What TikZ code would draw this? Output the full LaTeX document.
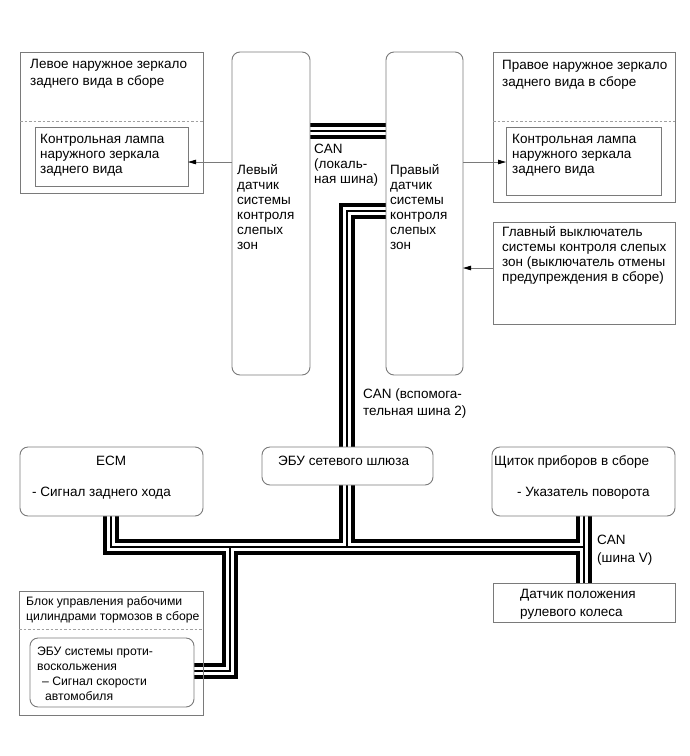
\documentclass[tikz,border=0pt]{standalone}
\usepackage{fontspec}
\setmainfont{Liberation Sans}
\usetikzlibrary{arrows.meta}
\pgfdeclarelayer{bg}
\pgfsetlayers{bg,main}
\definecolor{edgec}{HTML}{7A7A7A}
\definecolor{dashc}{HTML}{A0A0A0}
\newcommand\busnet[1]{%
  \draw[#1] (lsens.east |- 0,131) -- (rsens.west |- 0,131);
  \draw[#1] (rsens.west |- 0,211) -- (c1) -- (gateway.north -| c1);
  \draw[#1] (gateway.south -| c1) -- (c2);
  \draw[#1] (ecm.south -| c3) -- (c3) -- (c4);
  \draw[#1] (c5) -- (c6) -- (abs.east |- c6);
  \draw[#1] (cluster.south -| c4) -- (steer.north -| c4);
}
\begin{document}
\begin{tikzpicture}[x=1pt,y=-1pt,
  frame/.style={draw=edgec, line width=0.9pt, rectangle, inner sep=0pt, outer sep=0pt, anchor=north west},
  rbox/.style={frame, rounded corners=8pt, fill=white},
  sbox/.style={frame, fill=white},
  obox/.style={frame},
  dashline/.style={draw=dashc, line width=0.9pt, dash pattern=on 2.5pt off 2pt},
  txt/.style={anchor=base west, align=left, inner sep=0pt, font=\fontsize{13.5}{15}\selectfont},
  txth/.style={txt, font=\fontsize{13.5}{16.5}\selectfont},
  txts/.style={txt, font=\fontsize{12.2}{15}\selectfont},
  arr/.style={draw=edgec, line width=0.8pt, -{Triangle[length=8pt,width=4.5pt,color=black]}},
  busout/.style={line width=15.5pt, black, line join=miter},
  buswhite/.style={line width=8.5pt, white, line join=miter},
  busmid/.style={line width=1.1pt, black, line join=miter}
]
\useasboundingbox (0,0) rectangle (690,756);

% boxes
\node[obox, minimum width=183pt, minimum height=141pt] (lmirror) at (20,52) {};
\node[sbox, minimum width=153pt, minimum height=59pt] (llamp) at (35,127) {};
\node[rbox, minimum width=78pt, minimum height=323pt] (lsens) at (232,52) {};
\node[rbox, minimum width=77pt, minimum height=323pt] (rsens) at (386,52) {};
\node[obox, minimum width=182pt, minimum height=150pt] (rmirror) at (493,52) {};
\node[sbox, minimum width=155pt, minimum height=68pt] (rlamp) at (506,127) {};
\node[sbox, minimum width=182pt, minimum height=102pt] (switch) at (493,222) {};
\node[rbox, minimum width=171pt, minimum height=38pt] (gateway) at (262,447) {};
\node[rbox, minimum width=183pt, minimum height=69pt] (ecm) at (20,447) {};
\node[rbox, minimum width=183pt, minimum height=69pt] (cluster) at (492,447) {};
\node[sbox, minimum width=182pt, minimum height=39pt] (steer) at (493,583) {};
\node[obox, minimum width=184pt, minimum height=124pt] (brake) at (19,591) {};
\node[rbox, minimum width=164pt, minimum height=69pt] (abs) at (30,638) {};

% dashed separators
\draw[dashline] (lmirror.west |- 0,121) -- (lmirror.east |- 0,121);
\draw[dashline] (rmirror.west |- 0,121) -- (rmirror.east |- 0,121);
\draw[dashline] (brake.west |- 0,629) -- (brake.east |- 0,629);

% bus coordinates
\coordinate (c1) at (347,211);
\coordinate (c2) at (347,547);
\coordinate (c3) at (111,547);
\coordinate (c4) at (584,547);
\coordinate (c5) at (230,547);
\coordinate (c6) at (230,671);

\begin{pgfonlayer}{bg}
\fill[white] (0,0) rectangle (690,756);
\busnet{busout}
\busnet{buswhite}
\busnet{busmid}
\end{pgfonlayer}

% arrows
\draw[arr] (lsens.west |- 0,162) -- (llamp.east |- 0,162);
\draw[arr] (rsens.east |- 0,162) -- (rlamp.west |- 0,162);
\draw[arr] (switch.west |- 0,268) -- (rsens.east |- 0,268);

% texts (anchor = baseline of the last line)
\node[txth] (t1) at (30,85) {Левое наружное зеркало\\заднего вида в сборе};
\node[txt] (t2) at (40,173.5) {Контрольная лампа\\наружного зеркала\\заднего вида};
\node[txt] (t3) at (237,249.5) {Левый\\датчик\\системы\\контроля\\слепых\\зон};
\node[txt] (t4) at (314,183.5) {CAN\\(локаль-\\ная шина)};
\node[txt] (t5) at (390,249.5) {Правый\\датчик\\системы\\контроля\\слепых\\зон};
\node[txth] (t6) at (502,86) {Правое наружное зеркало\\заднего вида в сборе};
\node[txt] (t7) at (512,173.5) {Контрольная лампа\\наружного зеркала\\заднего вида};
\node[txt] (t8) at (502,281.5) {Главный выключатель\\системы контроля слепых\\зон (выключатель отмены\\предупреждения в сборе)};
\node[txth] (t9) at (363,415) {CAN (вспомога-\\тельная шина 2)};
\node[txt, anchor=base] (t10) at (111,465.5) {ECM};
\node[txt] (t11) at (32,496.5) {- Сигнал заднего хода};
\node[txt] (t12) at (278,465.5) {ЭБУ сетевого шлюза};
\node[txt] (t13) at (494,465.5) {Щиток приборов в сборе};
\node[txt] (t14) at (517,496.5) {- Указатель поворота};
\node[txt, font=\fontsize{13.5}{18}\selectfont] (t15) at (597,562) {CAN\\(шина V)};
\node[txt, font=\fontsize{13.5}{18}\selectfont] (t16) at (520,616.5) {Датчик положения\\рулевого колеса};
\node[txts] (t17) at (26,620.5) {Блок управления рабочими\\цилиндрами тормозов в сборе};
\node[txts] (t18) at (37,670) {ЭБУ системы проти-\\воскольжения};
\node[txts] (t19) at (42,700.5) {– Сигнал скорости\\\hspace{3pt}автомобиля};
\end{tikzpicture}
\end{document}
